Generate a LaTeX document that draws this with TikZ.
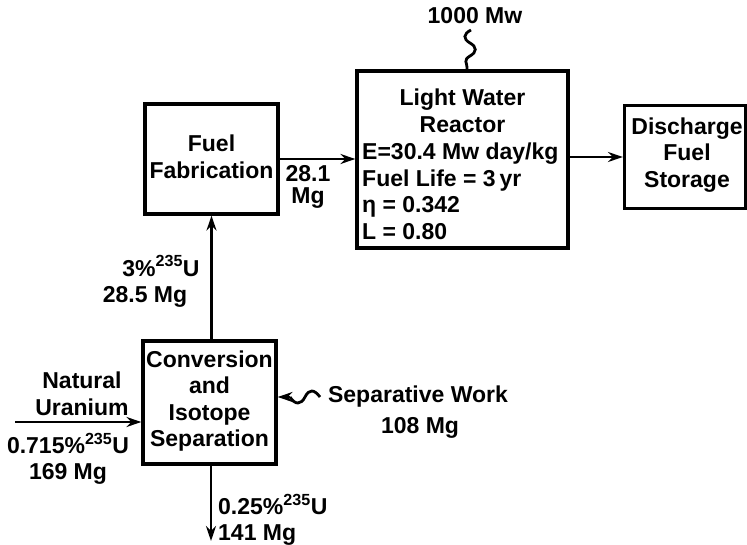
\documentclass[tikz,border=0pt]{standalone}
\usepackage{fontspec}
\setmainfont{Liberation Sans}
\usetikzlibrary{arrows.meta}
\begin{document}
\begin{tikzpicture}[x=1pt,y=-1pt,
  every node/.style={font=\bfseries\fontsize{23}{26.5}\selectfont},
  box/.style={draw,line width=3.2pt,inner sep=0pt},
  flow/.style={line width=2.8pt,-{Stealth[length=15pt,width=10pt]}},
  wave/.style={line width=2.8pt},
  txt/.style={inner sep=0pt,align=center}]
\useasboundingbox (0,0) rectangle (747,545);
% boxes
\node[box,minimum width=133pt,minimum height=110pt] (fab) at (211.5,159) {};
\node[box,minimum width=211pt,minimum height=177pt] (reactor) at (462.5,159.5) {};
\node[box,minimum width=121pt,minimum height=103pt] (dis) at (685,157) {};
\node[box,minimum width=133pt,minimum height=123pt] (conv) at (209.5,402.5) {};
% box texts
\node[txt] (fabt) at (211.5,157) {Fuel\\Fabrication};
\node[txt] (rtitle) at (462.5,111) {Light Water\\Reactor};
\node[txt,align=left,anchor=north west] (rdata) at (362,143) {E=30.4 Mw day/kg\\Fuel Life = 3\,yr\\η = 0.342\\L = 0.80};
\node[txt] (dist) at (687,155) {Discharge\\Fuel\\Storage};
\node[txt] (convt) at (209.5,401) {Conversion\\and\\Isotope\\Separation};
% connectors
\draw[flow] (fab.east) -- (fab.east -| reactor.west);
\draw[flow] (dis.west -| reactor.east) -- (dis.west);
\draw[flow] (conv.north -| fab.south) -- (fab.south);
\coordinate (nu) at (15,422);
\draw[flow] (nu) -- (nu -| conv.west);
\coordinate (tail) at (211,541);
\draw[flow] (conv.south -| tail) -- (tail);
\coordinate (sw) at (320,397);
\draw[wave] (sw) .. controls (314,389) and (309,389) .. (305,397) .. controls (301,405) and (295,405) .. (290,397) coordinate (swend);
\draw[flow] (swend) -- (swend -| conv.east);
\coordinate (pw) at (471,30);
\coordinate (pwe) at (467,67);
\draw[wave] (pw) .. controls (463,34) and (463,39) .. (470,43) .. controls (477,47) and (477,52) .. (470,56) .. controls (463,60) and (467,63) .. (pwe) -- (pwe |- reactor.north);
% labels
\node[txt] (lpw) at (475,16) {1000 Mw};
\node[txt,font=\bfseries\fontsize{23}{22}\selectfont] (l281) at (308,187) {28.1\\Mg};
\node[txt] (l3) at (161,266) {3\%\textsuperscript{235}U};
\node[txt] (l285) at (145,297) {28.5 Mg};
\node[txt] (lnat) at (82,394) {Natural\\Uranium};
\node[txt] (lnat2) at (68,459) {0.715\%\textsuperscript{235}U\\169 Mg};
\node[txt] (lsw) at (418,397) {Separative Work};
\node[txt] (lsw2) at (420,428) {108 Mg};
\node[txt,align=left,anchor=west] (ltail) at (218,520) {0.25\%\textsuperscript{235}U\\141 Mg};
\end{tikzpicture}
\end{document}
